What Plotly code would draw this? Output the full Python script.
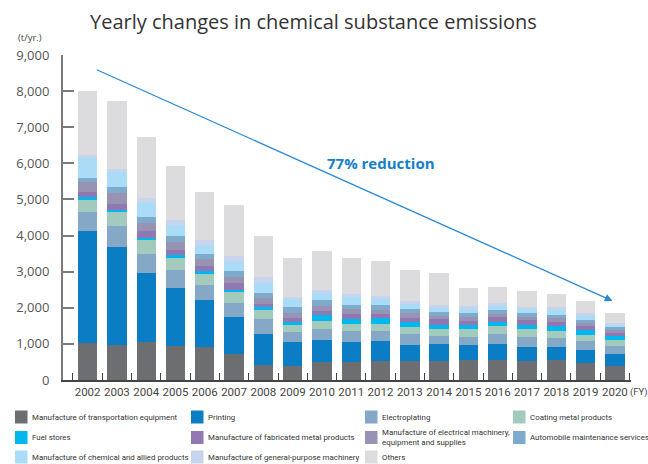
import plotly.graph_objects as go

# Fiscal years on the horizontal axis
years = list(range(2002, 2021))
year_labels = [str(y) for y in years]

# Emissions by industry (t/yr.), stacked bottom to top
transport = [1025, 970, 1050, 940, 915, 720, 415, 390, 510, 510, 525, 525, 525, 555, 555, 525, 555, 470, 390]
printing = [3100, 2715, 1910, 1605, 1300, 1025, 860, 665, 600, 545, 555, 445, 470, 415, 445, 390, 360, 360, 330]
electroplating = [525, 580, 525, 500, 415, 385, 415, 275, 305, 305, 275, 305, 220, 220, 275, 275, 250, 250, 220]
coating = [330, 390, 390, 330, 305, 330, 250, 195, 220, 195, 195, 195, 195, 220, 220, 220, 195, 165, 165]
fuel = [95, 65, 65, 85, 85, 45, 85, 85, 165, 140, 175, 145, 110, 110, 110, 100, 140, 140, 110]
fabricated = [130, 155, 185, 140, 140, 175, 85, 110, 110, 140, 100, 100, 165, 110, 130, 145, 110, 110, 85]
electrical = [275, 305, 220, 220, 195, 165, 165, 140, 140, 140, 110, 140, 85, 110, 95, 85, 110, 85, 85]
auto_maint = [120, 165, 165, 165, 140, 165, 140, 165, 165, 110, 140, 110, 120, 110, 110, 120, 90, 85, 75]
chemical = [555, 425, 390, 305, 220, 270, 260, 205, 195, 205, 165, 140, 130, 110, 120, 110, 130, 120, 65]
general = [75, 75, 140, 140, 165, 150, 165, 75, 85, 100, 85, 85, 55, 85, 75, 55, 85, 75, 55]
others = [1775, 1880, 1690, 1495, 1330, 1410, 1155, 1080, 1080, 995, 970, 860, 885, 500, 445, 435, 360, 335, 275]

series_names = [
    "Manufacture of transportation equipment",
    "Printing",
    "Electroplating",
    "Coating metal products",
    "Fuel stores",
    "Manufacture of fabricated metal products",
    "Manufacture of electrical machinery,<br>equipment and supplies",
    "Automobile maintenance services",
    "Manufacture of chemical and allied products",
    "Manufacture of general-purpose machinery",
    "Others",
]
series_values = [transport, printing, electroplating, coating, fuel, fabricated,
                 electrical, auto_maint, chemical, general, others]
series_colors = ["#6d6e71", "#0a7dc4", "#84a8c6", "#a2cbbe", "#00b8ee", "#9079b2",
                 "#9893b3", "#7eaacb", "#aadcf8", "#c6d4ee", "#dcdcde"]

y_ticks = list(range(0, 9001, 1000))
y_tick_labels = [f"{v:,}" for v in y_ticks]

# Arrow from the 2002 level down to the 2020 level
arrow_start = (2002.26, 8610)
arrow_end = (2019.92, 2190)
reduction_label = "77% reduction"

NARROW = "Roboto, Liberation Sans, sans-serif"
SANS = "Open Sans, Noto Sans, sans-serif"

W, H = 648, 464
ML, MR, MT, MB = 63, 17, 55, 84
PW, PH = W - ML - MR, H - MT - MB


def px(x):
    return (x - ML) / PW


def py(y):
    return (H - MB - y) / PH


def narrow_font(size, color="#333333"):
    return dict(family=NARROW, size=size, color=color)


fig = go.Figure()
for name, vals, col in zip(series_names, series_values, series_colors):
    fig.add_trace(go.Bar(x=years, y=vals, name=name, marker=dict(color=col, line=dict(width=0)),
                         showlegend=False))

shapes = []
annotations = []

# Legend laid out in a 4-column grid beneath the plot
legend_cols = [15, 191, 365, 513]
legend_rows = [417, 437.5, 457]
order = [
    (0, 0, 0), (1, 1, 0), (2, 2, 0), (3, 3, 0),
    (4, 0, 1), (5, 1, 1), (6, 2, 1), (7, 3, 1),
    (8, 0, 2), (9, 1, 2), (10, 2, 2),
]
for idx, c, r in order:
    x0 = legend_cols[c]
    yc = legend_rows[r]
    shapes.append(dict(type="rect", xref="paper", yref="paper",
                       x0=px(x0), x1=px(x0 + 12.5), y0=py(yc + 6.5), y1=py(yc - 6.5),
                       fillcolor=series_colors[idx], line=dict(width=0)))
    annotations.append(dict(xref="paper", yref="paper", x=px(x0 + 15), y=py(yc),
                            xanchor="left", yanchor="middle", align="left",
                            text=series_names[idx], showarrow=False,
                            font=narrow_font(7.9)))

annotations += [
    dict(xref="paper", yref="paper", x=px(313), y=py(22), xanchor="center", yanchor="middle",
         text="Yearly changes in chemical substance emissions", showarrow=False,
         font=dict(family=SANS, size=20, color="#333333")),
    dict(xref="paper", yref="paper", x=px(30), y=py(38), xanchor="center", yanchor="middle",
         text="(t/yr.)", showarrow=False, font=dict(family=SANS, size=9.5, color="#444444")),
    dict(xref="paper", yref="paper", x=px(628), y=py(392), xanchor="left", yanchor="middle",
         text="(FY)", showarrow=False, font=narrow_font(9.5, "#444444")),
    dict(xref="x", yref="y", x=arrow_end[0], y=arrow_end[1], axref="x", ayref="y",
         ax=arrow_start[0], ay=arrow_start[1], text="", showarrow=True,
         arrowhead=2, arrowsize=1.2, arrowwidth=1.3, arrowcolor="#2b8ad6"),
    dict(xref="x", yref="y", x=2012.03, y=6010, text=reduction_label, showarrow=False,
         xanchor="center", yanchor="middle",
         font=dict(family=SANS, size=15, color="#1580c8", weight="bold")),
]

fig.update_layout(
    barmode="stack",
    bargap=0.34,
    width=W, height=H,
    margin=dict(l=ML, r=MR, t=MT, b=MB, autoexpand=False),
    paper_bgcolor="white",
    plot_bgcolor="white",
    shapes=shapes,
    annotations=annotations,
    xaxis=dict(
        range=[2001.16, 2020.55],
        tickvals=years, ticktext=year_labels, tickangle=0,
        ticks="", showgrid=False, zeroline=False,
        showline=True, linecolor="#444444", linewidth=1.5,
        tickfont=narrow_font(11.5, "#444444"),
        minor=dict(tick0=2001.5, dtick=1, ticks="inside", ticklen=7,
                   tickcolor="#444444", tickwidth=1.2, showgrid=False),
    ),
    yaxis=dict(
        range=[0, 9000],
        tickvals=y_ticks, ticktext=y_tick_labels,
        ticks="inside", ticklen=11, tickwidth=2, tickcolor="#7a7a7a",
        showgrid=False, zeroline=False,
        showline=True, linecolor="#7a7a7a", linewidth=2,
        tickfont=dict(family=SANS, size=13, color="#555555"),
        ticklabelstandoff=9,
    ),
)

fig.write_html("out.html")
